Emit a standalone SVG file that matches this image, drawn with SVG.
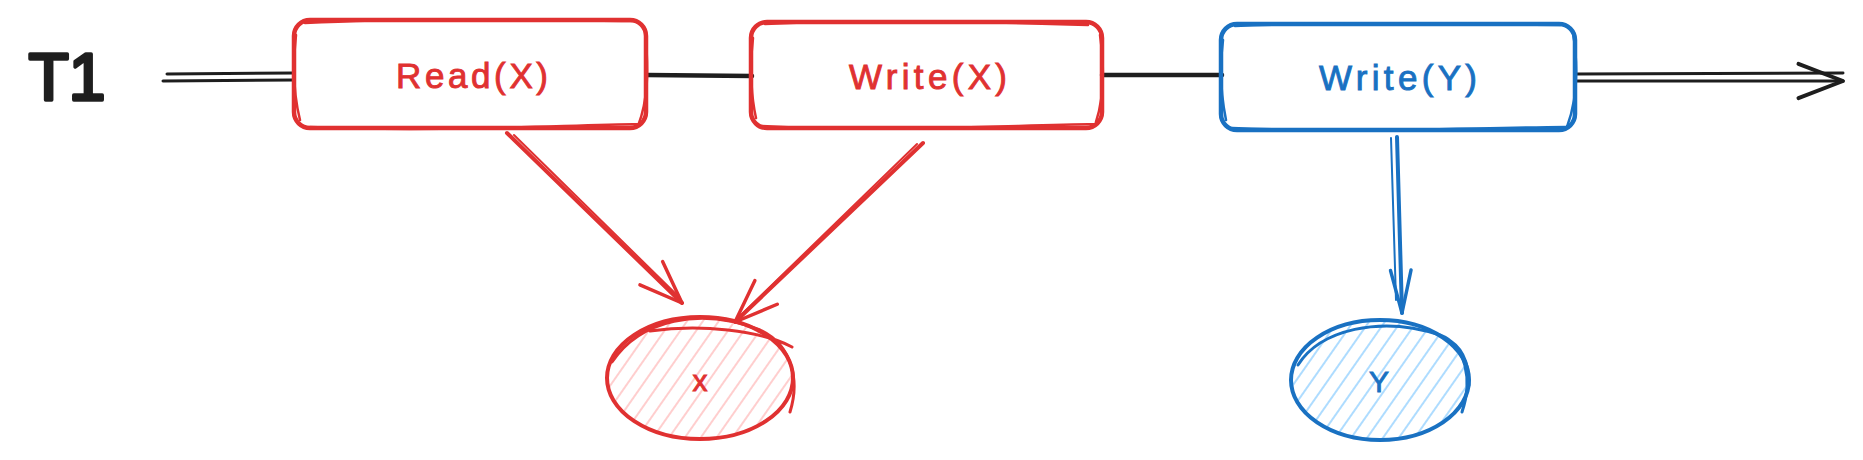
<svg xmlns="http://www.w3.org/2000/svg" width="1863" height="460" viewBox="0 0 1863 460">
<style>
.lbl{font-family:"Liberation Sans",Arial,sans-serif;font-size:35px;text-anchor:middle;dominant-baseline:central;stroke-width:0.9}
.red{fill:#e03131;stroke:#e03131}
.blue{fill:#1971c2;stroke:#1971c2}
.sr{stroke:#e03131;fill:none;stroke-linecap:round;stroke-linejoin:round}
.sb{stroke:#1971c2;fill:none;stroke-linecap:round;stroke-linejoin:round}
.sk{stroke:#1e1e1e;fill:none;stroke-linecap:round;stroke-linejoin:round}
</style>
<defs>
<pattern id="hr" width="13" height="13" patternUnits="userSpaceOnUse" patternTransform="rotate(35)">
<line x1="6" y1="0" x2="6" y2="13" stroke="#ffc9c9" stroke-width="1.8"/>
</pattern>
<pattern id="hb" width="13" height="13" patternUnits="userSpaceOnUse" patternTransform="rotate(35)">
<line x1="6" y1="0" x2="6" y2="13" stroke="#a5d8ff" stroke-width="1.8"/>
</pattern>
<marker id="ak" markerUnits="userSpaceOnUse" orient="auto" markerWidth="60" markerHeight="60" refX="0" refY="0" viewBox="-60 -30 70 60" overflow="visible">
<path d="M-52,-20 L0,0 L-52,20" class="sk" stroke-width="4.5"/>
</marker>
<marker id="ar" markerUnits="userSpaceOnUse" orient="auto" markerWidth="60" markerHeight="60" refX="0" refY="0" viewBox="-60 -30 70 60" overflow="visible">
<path d="M-50,-19 L0,0 L-50,19" class="sr" stroke-width="4"/>
</marker>
<marker id="ab" markerUnits="userSpaceOnUse" orient="auto" markerWidth="60" markerHeight="60" refX="0" refY="0" viewBox="-60 -30 70 60" overflow="visible">
<path d="M-50,-12 L0,0 L-50,12" class="sb" stroke-width="4"/>
</marker>
</defs>
<rect width="1863" height="460" fill="#ffffff"/>

<g id="connectors">
<path d="M167,74 L294,73" class="sk" stroke-width="3"/>
<path d="M163,81 L294,80" class="sk" stroke-width="3"/>
<path d="M647,75 L752,76" class="sk" stroke-width="4.5"/>
<path d="M1102,75 L1222,75" class="sk" stroke-width="4.5"/>
<path d="M1576,74 L1843,73" class="sk" stroke-width="3"/>
<path d="M1576,81 L1843,81" class="sk" stroke-width="3" marker-end="url(#ak)"/>
<path d="M507,133 L682,303" class="sr" stroke-width="4" marker-end="url(#ar)"/>
<path d="M514,135 L680,298" class="sr" stroke-width="2"/>
<path d="M923,143 L735,322" class="sr" stroke-width="4" marker-end="url(#ar)"/>
<path d="M917,144 L740,316" class="sr" stroke-width="2"/>
<path d="M1397,137 L1402,313" class="sb" stroke-width="4" marker-end="url(#ab)"/>
<path d="M1391,138 L1396,300" class="sb" stroke-width="2"/>
</g>

<g id="t1">
<text x="67" y="77" style="font-family:'Liberation Sans',Arial,sans-serif;font-size:66px;text-anchor:middle;dominant-baseline:central;stroke:#1e1e1e;stroke-width:3.5;stroke-linejoin:round" fill="#1e1e1e">T1</text>
</g>

<g id="read-x">
<rect x="294" y="20" width="352" height="108" rx="16" fill="#ffffff" class="sr" stroke-width="4.5"/>
<path d="M305,23 C420,17 540,20 635,21 M310,127 C430,132 540,126 640,124 M296,35 C292,70 295,100 300,120 M645,32 C649,70 648,100 638,126" class="sr" stroke-width="2.5"/>
<text x="472" y="75" class="lbl red" textLength="152" lengthAdjust="spacing">Read(X)</text>
</g>

<g id="write-x">
<rect x="751" y="22" width="351" height="106" rx="16" fill="#ffc9c9" class="sr" stroke-width="4.5"/>
<path d="M765,24 C880,19 990,22 1088,25 M762,126 C880,132 990,126 1095,124 M753,38 C749,70 752,100 756,118 M1100,35 C1105,70 1103,100 1096,122" class="sr" stroke-width="2.5"/>
<text x="928" y="76" class="lbl red" textLength="158" lengthAdjust="spacing">Write(X)</text>
</g>

<g id="write-y">
<rect x="1221" y="24" width="354" height="106" rx="16" fill="#a5d8ff" class="sb" stroke-width="4.5"/>
<path d="M1235,26 C1350,21 1460,24 1560,25 M1232,128 C1350,133 1460,128 1566,127 M1223,40 C1219,70 1222,100 1226,120 M1573,33 C1579,70 1577,100 1567,127" class="sb" stroke-width="2.5"/>
<text x="1398" y="77" class="lbl blue" textLength="158" lengthAdjust="spacing">Write(Y)</text>
</g>

<g id="x">
<ellipse cx="700" cy="378" rx="93" ry="61" fill="url(#hr)"/>
<ellipse cx="700" cy="378" rx="93" ry="61" class="sr" stroke-width="4"/>
<path d="M612,362 C640,320 700,306 760,330 C792,345 800,380 790,412 M650,331 C700,324 760,330 792,347" class="sr" stroke-width="3"/>
<text x="700" y="380" class="lbl red" style="font-size:30px">x</text>
</g>

<g id="y">
<ellipse cx="1380" cy="380" rx="89" ry="60" fill="url(#hb)"/>
<ellipse cx="1380" cy="380" rx="89" ry="60" class="sb" stroke-width="4"/>
<path d="M1298,365 C1320,330 1380,315 1440,335 C1466,345 1473,380 1462,412 M1445,338 C1461,345 1469,360 1469,385" class="sb" stroke-width="3"/>
<text x="1379" y="381" class="lbl blue" style="font-size:30px">Y</text>
</g>
</svg>
